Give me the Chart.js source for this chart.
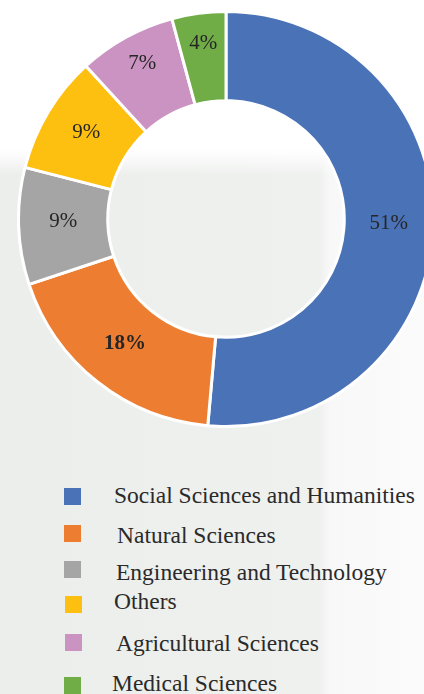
<!DOCTYPE html>
<html>
<head>
<meta charset="utf-8">
<script src="https://cdn.jsdelivr.net/npm/chart.js@4"></script>
<style>
  html, body { margin: 0; padding: 0; }
  body {
    width: 424px; height: 694px; overflow: hidden; position: relative;
    background:
      linear-gradient(180deg, rgba(255,255,255,1) 0px, rgba(255,255,255,1) 150px, rgba(255,255,255,0) 175px),
      linear-gradient(90deg, #eceeec 0px, #eff1ef 320px, #f8f8f8 330px, #fbfbfb 424px);
    font-family: "Liberation Serif", "DejaVu Serif", serif;
  }
  #wrap { position: absolute; left: 17px; top: 10px; width: 418px; height: 418px; }
  .legend { position: absolute; left: 0; top: 0; width: 424px; }
  .item { position: absolute; font-size: 23.5px; color: #2a2a2a; white-space: nowrap; line-height: 26px; }
  .box { position: absolute; width: 17px; height: 17px; }
</style>
</head>
<body>
<div id="wrap"><canvas id="chart"></canvas></div>
<div class="legend" id="legend"></div>
<script>
/* data */
var categories = ["Social Sciences and Humanities", "Natural Sciences", "Engineering and Technology", "Others", "Agricultural Sciences", "Medical Sciences"];
var shares = [51.4, 18.5, 9.1, 9.2, 7.6, 4.2];
var shareLabels = ["51%", "18%", "9%", "9%", "7%", "4%"];
var colors = ["#4A72B7", "#ED7E31", "#A5A5A5", "#FEC010", "#CB93C2", "#70AD47"];

/* legend rows, placed by hand like the original */
var legendRows = [
  { box: [64, 488], text: [114, 495] },
  { box: [64, 525], text: [117, 535] },
  { box: [64, 561], text: [116, 572] },
  { box: [65, 596], text: [114, 601] },
  { box: [65, 634], text: [116, 643] },
  { box: [64, 677], text: [112, 683] }
];

var legend = document.getElementById("legend");
categories.forEach(function (name, i) {
  var b = document.createElement("div");
  b.className = "box";
  b.style.left = legendRows[i].box[0] + "px";
  b.style.top = legendRows[i].box[1] + "px";
  b.style.background = colors[i];
  legend.appendChild(b);
  var t = document.createElement("div");
  t.className = "item";
  t.textContent = name;
  t.style.left = legendRows[i].text[0] + "px";
  t.style.top = (legendRows[i].text[1] - 13) + "px";
  legend.appendChild(t);
});

/* percent text on each slice, small slices pushed a little outward */
var sliceLabels = {
  id: "sliceLabels",
  afterDatasetsDraw: function (chart) {
    var ctx = chart.ctx;
    var meta = chart.getDatasetMeta(0);
    ctx.save();
    ctx.textAlign = "center";
    ctx.textBaseline = "middle";
    ctx.fillStyle = "#262626";
    meta.data.forEach(function (arc, i) {
      var mid = (arc.startAngle + arc.endAngle) / 2;
      var frac = shares[i] < 8 ? 0.62 : 0.5;
      var r = arc.innerRadius + (arc.outerRadius - arc.innerRadius) * frac;
      var x = arc.x + Math.cos(mid) * r;
      var y = arc.y + Math.sin(mid) * r - 3;
      ctx.font = (i === 1 ? "bold " : "") + "21px 'Liberation Serif', serif";
      ctx.fillText(shareLabels[i], x, y);
    });
    ctx.restore();
  }
};

var canvasElement = document.getElementById("chart");

var config =
{
    type : "doughnut",
    data :
    {
        labels: categories,
        datasets: [
            {
                data : shares,
                backgroundColor : colors,
                borderColor : "#ffffff",
                borderWidth : 3
            }
        ]
    },
    options :
    {
        responsive : true,
        maintainAspectRatio : false,
        animation : false,
        cutout : "57%",
        layout : { padding : 0 },
        plugins : {
            legend : { display : false },
            tooltip : { enabled : false }
        }
    },
    plugins : [sliceLabels]
};

var chart = new Chart(canvasElement, config);
</script>
</body>
</html>
